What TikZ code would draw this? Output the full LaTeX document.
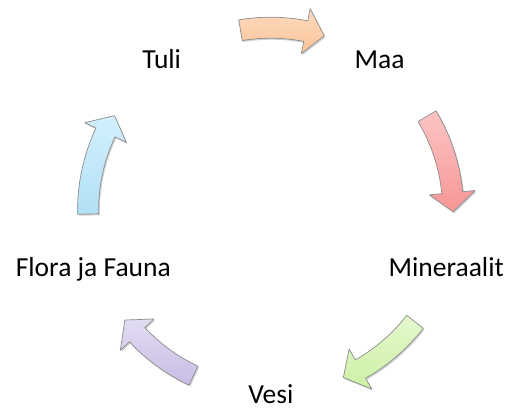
\documentclass[tikz,border=0pt]{standalone}
\usepackage{fontspec}
\setmainfont{Carlito}
\usetikzlibrary{shadows}
\definecolor{orangeTop}{RGB}{254,218,190}
\definecolor{orangeBot}{RGB}{250,196,152}
\definecolor{redTop}{RGB}{252,196,196}
\definecolor{redBot}{RGB}{247,150,150}
\definecolor{greenTop}{RGB}{228,249,205}
\definecolor{greenBot}{RGB}{205,240,165}
\definecolor{purpleTop}{RGB}{226,220,243}
\definecolor{purpleBot}{RGB}{200,188,228}
\definecolor{cyanTop}{RGB}{210,240,252}
\definecolor{cyanBot}{RGB}{178,224,246}
\begin{document}
\begin{tikzpicture}[x=1pt,y=1pt,
    cyclabel/.style={font=\fontsize{27.5}{33}\selectfont, inner sep=0pt, anchor=base},
    cycarrow/.style={draw=black!45, line width=0.7pt, line join=round,
      drop shadow={shadow xshift=1.2pt, shadow yshift=-1.5pt, fill=black, opacity=0.18}}]
  \useasboundingbox (0,0) rectangle (508,-409);
  % labels
  \node[cyclabel] (tuli) at (161.7,-69) {Tuli};
  \node[cyclabel] (maa) at (379.5,-69) {Maa};
  \node[cyclabel] (mineraalit) at (446.2,-276) {Mineraalit};
  \node[cyclabel] (vesi) at (270.8,-403.5) {Vesi};
  \node[cyclabel] (flora) at (93.3,-276) {Flora ja Fauna};
  % arrows round the centre
  \begin{scope}[shift={(270.6,-210.2)}]
    \foreach \tail/\tip/\ctop/\cbot in {99.5/72.9/orangeTop/orangeBot,
        31/-0.5/redTop/redBot, -37.7/-66.5/greenTop/greenBot,
        -115/-143/purpleTop/purpleBot, 181.2/148.8/cyanTop/cyanBot}{
      \pgfmathsetmacro{\hb}{\tip+6}
      \draw[cycarrow, top color=\ctop, bottom color=\cbot]
        (\tail:193) arc[start angle=\tail, end angle=\hb, radius=193pt]
        -- (\hb:205.5) -- (\tip:182.5) -- (\hb:159.5) -- (\hb:172)
        arc[start angle=\hb, end angle=\tail, radius=172pt] -- cycle;
    }
  \end{scope}
\end{tikzpicture}
\end{document}
